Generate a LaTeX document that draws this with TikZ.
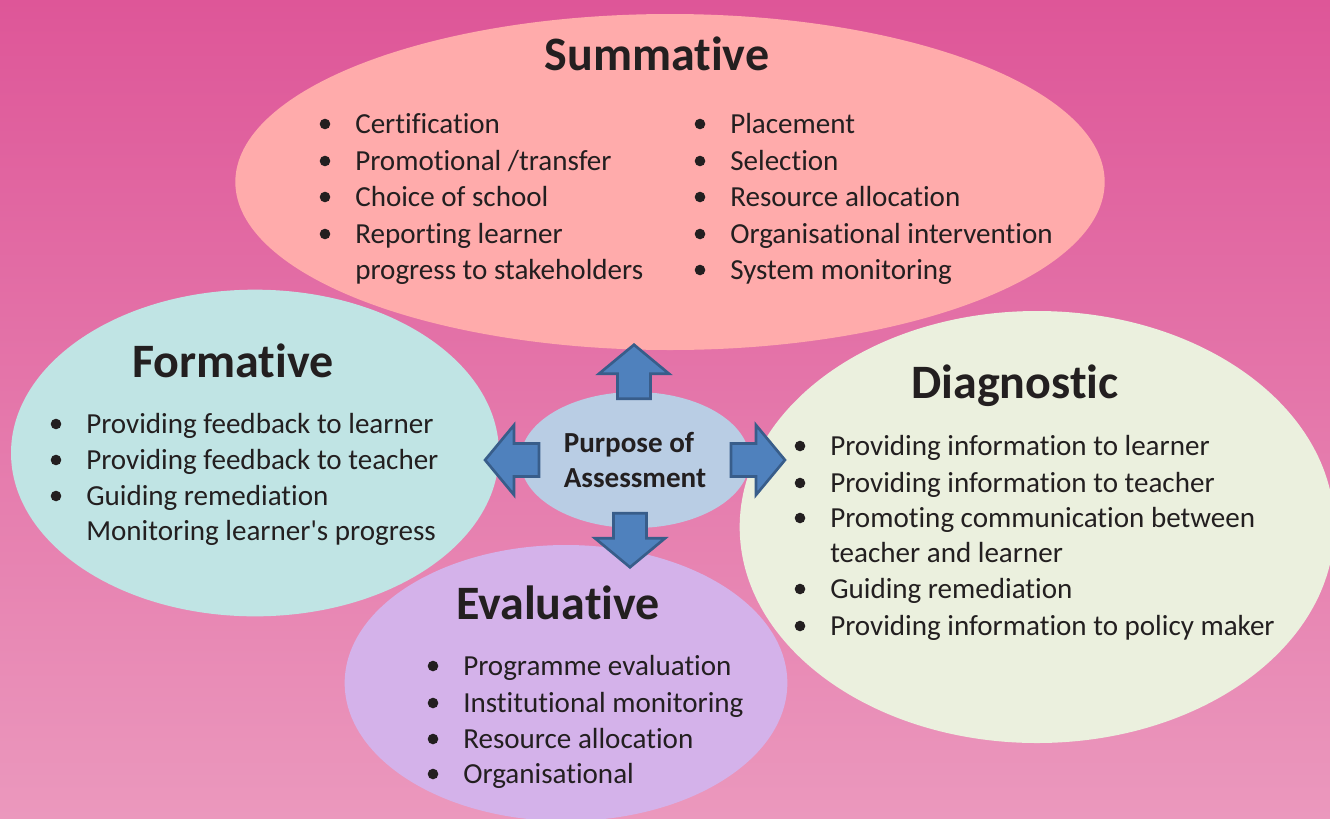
\documentclass[tikz,border=0pt]{standalone}
\usepackage{fontspec}
\setmainfont{Carlito}[RawFeature={-liga}]
\usetikzlibrary{shapes.geometric,calc}

\definecolor{bgtop}{RGB}{222,86,152}
\definecolor{bgbottom}{RGB}{235,152,189}
\definecolor{sumfill}{RGB}{255,171,171}
\definecolor{formfill}{RGB}{192,228,228}
\definecolor{diagfill}{RGB}{235,240,222}
\definecolor{evalfill}{RGB}{212,178,234}
\definecolor{purpfill}{RGB}{185,205,228}
\definecolor{arrowfill}{RGB}{79,129,189}
\definecolor{arrowedge}{RGB}{56,93,138}
\definecolor{ink}{RGB}{35,31,32}

\begin{document}
\begin{tikzpicture}[x=0.75pt, y=-0.75pt,
    bubble/.style={ellipse, inner sep=0, draw=none},
    title/.style={font=\bfseries\fontsize{36}{43}\selectfont, text=ink, inner sep=0, anchor=base},
    entry/.style={font=\fontsize{21.8}{26}\selectfont, text=ink, inner sep=0, anchor=base west},
    barrow/.style={fill=arrowfill, draw=arrowedge, line width=2pt, line join=miter}]
    \def\bitem#1#2#3#4{%
        \fill[ink] (#2-30,#3-9) circle[radius=5.3];
        \node[entry] (#1) at (#2,#3) {#4};
    }

    \def\barrow#1#2{%
        \draw[barrow, shift={#1}, rotate=#2] (0,0) -- (35,29) -- (16.5,29) -- (16.5,54) -- (-16.5,54) -- (-16.5,29) -- (-35,29) -- cycle;
    }

    \useasboundingbox (0,0) rectangle (1330,818);
    \shade[top color=bgtop, bottom color=bgbottom] (0,0) rectangle (1330,818);

    % summative, top
    \node[bubble, fill=sumfill, minimum width=652pt, minimum height=252pt] (summative) at (670,182) {};
    \node[title] (sumtitle) at (657,70) {Summative};
    \bitem{sum1}{355}{133}{Certification}
    \bitem{sum2}{355}{170}{Promotional /transfer}
    \bitem{sum3}{355}{206}{Choice of school}
    \bitem{sum4}{355}{243}{Reporting learner}
    \node[entry] (sum4b) at (355,279) {progress to stakeholders};
    \bitem{sum5}{730}{133}{Placement}
    \bitem{sum6}{730}{170}{Selection}
    \bitem{sum7}{730}{206}{Resource allocation}
    \bitem{sum8}{730}{243}{Organisational intervention}
    \bitem{sum9}{730}{279}{System monitoring}

    % formative, left
    \node[bubble, fill=formfill, minimum width=366pt, minimum height=245pt] (formative) at (255,453) {};
    \node[title] (formtitle) at (233,377) {Formative};
    \bitem{form1}{86}{433}{Providing feedback to learner}
    \bitem{form2}{86}{469}{Providing feedback to teacher}
    \bitem{form3}{86}{505}{Guiding remediation}
    \node[entry] (form3b) at (86,540) {Monitoring learner\textquotesingle s progress};

    % diagnostic, right
    \node[bubble, fill=diagfill, minimum width=446pt, minimum height=324pt] (diagnostic) at (1037,527) {};
    \node[title] (diagtitle) at (1015,398) {Diagnostic};
    \bitem{diag1}{830}{455}{Providing information to learner}
    \bitem{diag2}{830}{492}{Providing information to teacher}
    \bitem{diag3}{830}{527}{Promoting communication between}
    \node[entry] (diag3b) at (830,562) {teacher and learner};
    \bitem{diag4}{830}{598}{Guiding remediation}
    \bitem{diag5}{830}{635}{Providing information to policy maker}

    % evaluative, bottom
    \node[bubble, fill=evalfill, minimum width=332pt, minimum height=207pt] (evaluative) at (566,683) {};
    \node[title] (evaltitle) at (558,619) {Evaluative};
    \bitem{eval1}{463}{675}{Programme evaluation}
    \bitem{eval2}{463}{712}{Institutional monitoring}
    \bitem{eval3}{463}{748}{Resource allocation}
    \bitem{eval4}{463}{783}{Organisational}

    % centre
    \node[bubble, fill=purpfill, minimum width=172pt, minimum height=102pt, align=left, text=ink,
        font=\bfseries\fontsize{21.8}{26.25}\selectfont] (purpose) at (635,460) {Purpose of\\Assessment};

    \barrow{($(purpose.north)+(-1,-47)$)}{0}
    \barrow{($(purpose.west)+(-35,0)$)}{90}
    \barrow{($(purpose.east)+(35,0)$)}{-90}
    \barrow{($(purpose.south)+(-5,39)$)}{180}

\end{tikzpicture}
\end{document}
